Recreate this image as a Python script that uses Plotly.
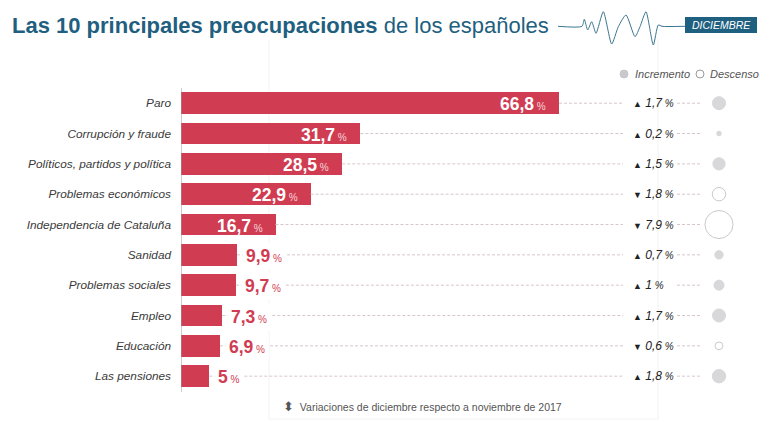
import plotly.graph_objects as go

# ---------------- data ----------------
categories = ["Paro", "Corrupción y fraude", "Políticos, partidos y política",
              "Problemas económicos", "Independencia de Cataluña", "Sanidad",
              "Problemas sociales", "Empleo", "Educación", "Las pensiones"]
values = [66.8, 31.7, 28.5, 22.9, 16.7, 9.9, 9.7, 7.3, 6.9, 5]
changes = [1.7, 0.2, 1.5, -1.8, -7.9, 0.7, 1.0, 1.7, -0.6, 1.8]
inside_label = [True, True, True, True, True, False, False, False, False, False]

title_bold = "Las 10 principales preocupaciones"
title_rest = " de los españoles"
month_label = "DICIEMBRE"
legend_up = "Incremento"
legend_down = "Descenso"
footnote = "Variaciones de diciembre respecto a noviembre de 2017"

# ---------------- layout constants ----------------
PAGE_W, PAGE_H = 770, 422
OFF = 8                       # browser body margin
W, H = PAGE_W - OFF, PAGE_H - OFF
BASE_PX = 181          # page pixel of value 0
SCALE = 5.659          # px per unit
ROW0_PX = 103.2        # page y of first row centre
ROW_STEP = 30.33       # px between rows
FONT = "Liberation Sans, Arial, sans-serif"
RED = "#d03c52"
TEAL = "#1f5f7f"
DASH_COL = "#d6c6ca"

def px_to_x(p):
    return (p - BASE_PX) / SCALE

def P(x, y):
    return (x - OFF) / W, 1 - (y - OFF) / H

def fmt(v):
    s = f"{abs(v):.1f}".rstrip("0").rstrip(".")
    return s.replace(".", ",")

y_top = -(ROW0_PX - OFF) / ROW_STEP
y_bot = y_top + H / ROW_STEP

fig = go.Figure()

# dashed guide lines (bar end -> change column, change -> circle)
for c, v in zip(categories, values):
    fig.add_trace(go.Scatter(x=[v, px_to_x(623)], y=[c, c], mode="lines",
                             line=dict(color=DASH_COL, width=1, dash="3px,2px"),
                             hoverinfo="skip", showlegend=False))
    fig.add_trace(go.Scatter(x=[px_to_x(677), px_to_x(702)], y=[c, c], mode="lines",
                             line=dict(color=DASH_COL, width=1, dash="3px,2px"),
                             hoverinfo="skip", showlegend=False))

# bars
fig.add_trace(go.Bar(x=values, y=categories, orientation="h",
                     marker=dict(color=RED, line=dict(width=0)),
                     width=0.71, hoverinfo="skip", showlegend=False))

# change circles
fig.add_trace(go.Scatter(
    x=[px_to_x(719)] * len(changes), y=categories, mode="markers",
    marker=dict(size=[abs(c) for c in changes], sizemode="area", sizeref=0.02,
                color=["#c8c8cd" if c > 0 else "white" for c in changes],
                line=dict(color=["#c8c8cd" if c > 0 else "#b4b4b4" for c in changes],
                          width=1)),
    hoverinfo="skip", showlegend=False))

annotations = []
# value labels
for c, v, ins in zip(categories, values, inside_label):
    if ins:
        annotations.append(dict(
            x=v, y=c, xref="x", yref="y", xanchor="right", yanchor="middle",
            xshift=-11, yshift=-1, showarrow=False,
            text=f"<b>{fmt(v)}</b><span style='font-size:10px;color:#f6d5da'> %</span>",
            font=dict(family=FONT, size=17.5, color="white")))
    else:
        annotations.append(dict(
            x=v, y=c, xref="x", yref="y", xanchor="left", yanchor="middle",
            xshift=5, yshift=-1, showarrow=False, bgcolor="white", borderpad=3,
            text=f"<b>{fmt(v)}</b><span style='font-size:10px'> %</span>",
            font=dict(family=FONT, size=17.5, color=RED)))

# change texts
for c, ch in zip(categories, changes):
    arrow = "▲" if ch > 0 else "▼"
    annotations.append(dict(
        x=px_to_x(631), y=c, xref="x", yref="y", xanchor="left", yanchor="middle",
        showarrow=False,
        text=f"<span style='font-size:9px'>{arrow}</span> <i>{fmt(ch)}</i><span style='font-size:10px'><i> %</i></span>",
        font=dict(family=FONT, size=12, color="#222222")))

# title
tx, ty = P(10, 26)
annotations.append(dict(
    x=tx, y=ty, xref="paper", yref="paper", xanchor="left", yanchor="middle",
    showarrow=False, text=f"<b>{title_bold}</b>{title_rest}",
    font=dict(family=FONT, size=22, color=TEAL)))
# month box text
mx, my = P(721, 25)
annotations.append(dict(
    x=mx, y=my, xref="paper", yref="paper", xanchor="center", yanchor="middle",
    showarrow=False, text=f"<i>{month_label}</i>",
    font=dict(family=FONT, size=10.5, color="white")))
# legend texts
lx, ly = P(633, 74)
annotations.append(dict(
    x=lx, y=ly, xref="paper", yref="paper", xanchor="left", yanchor="middle",
    showarrow=False, text=f"<i>{legend_up}</i>",
    font=dict(family=FONT, size=11, color="#555555")))
lx, ly = P(708, 74)
annotations.append(dict(
    x=lx, y=ly, xref="paper", yref="paper", xanchor="left", yanchor="middle",
    showarrow=False, text=f"<i>{legend_down}</i>",
    font=dict(family=FONT, size=11, color="#555555")))
# footnote
fx, fy = P(281, 406)
annotations.append(dict(
    x=fx, y=fy, xref="paper", yref="paper", xanchor="left", yanchor="middle",
    showarrow=False, text="<span style='font-size:13px'>⬍</span>  " + footnote,
    font=dict(family=FONT, size=10.5, color="#555555")))

# heartbeat line (page pixel coords)
hb_x = [558, 582, 584.3, 587.7, 591.7, 596, 603.3, 611.7, 618.3, 626, 635, 640, 646, 653.3, 658.3, 662, 685]
hb_y = [26.3, 26.3, 19.3, 30, 21.7, 33.3, 11.7, 44, 26.7, 15, 36.7, 26.7, 11.7, 45, 25, 26.3, 26.3]
fig.add_trace(go.Scatter(x=hb_x, y=hb_y, xaxis="x2", yaxis="y2", mode="lines",
                         line=dict(color="#3a7690", width=1, shape="spline", smoothing=0.6),
                         hoverinfo="skip", showlegend=False))
# legend symbols
fig.add_trace(go.Scatter(x=[624, 700], y=[74, 74], xaxis="x2", yaxis="y2", mode="markers",
                         marker=dict(size=8, color=["#c8c8cd", "white"],
                                     line=dict(color=["#c8c8cd", "#9a9a9a"], width=1)),
                         hoverinfo="skip", showlegend=False))

shapes = []
# faint background frame lines
for xp in (269, 658):
    x0, _ = P(xp, 0)
    shapes.append(dict(type="line", xref="paper", yref="paper", x0=x0, x1=x0,
                       y0=P(0, 419)[1], y1=P(0, 40)[1], layer="below",
                       line=dict(color="#f2f2f2", width=1)))
shapes.append(dict(type="line", xref="paper", yref="paper", x0=P(269, 0)[0], x1=P(658, 0)[0],
                   y0=P(0, 419)[1], y1=P(0, 419)[1], layer="below",
                   line=dict(color="#f2f2f2", width=1)))
# baseline
shapes.append(dict(type="line", xref="x", yref="paper", x0=0, x1=0,
                   y0=P(0, 392)[1], y1=P(0, 88)[1], layer="above",
                   line=dict(color="#9a9a9a", width=1)))
# month box
bx0, by0 = P(685, 33)
bx1, by1 = P(757, 17)
shapes.append(dict(type="rect", xref="paper", yref="paper", x0=bx0, x1=bx1, y0=by0, y1=by1,
                   fillcolor=TEAL, line=dict(width=0), layer="below"))

fig.update_layout(
    width=W, height=H, margin=dict(l=0, r=0, t=0, b=0),
    paper_bgcolor="white", plot_bgcolor="rgba(0,0,0,0)",
    bargap=0, showlegend=False,
    xaxis=dict(domain=[(BASE_PX - OFF) / W, 1], range=[0, (PAGE_W - BASE_PX) / SCALE],
               visible=False, fixedrange=True),
    yaxis=dict(type="category", categoryorder="array", categoryarray=categories,
               range=[y_bot, y_top], showgrid=False, zeroline=False, showline=False,
               ticks="", ticklabelstandoff=9, automargin=False,
               tickfont=dict(family=FONT, size=11.8, color="#3a3a3a", style="italic"),
               fixedrange=True),
    xaxis2=dict(domain=[0, 1], range=[OFF, PAGE_W], visible=False, anchor="y2", fixedrange=True),
    yaxis2=dict(domain=[0, 1], range=[PAGE_H, OFF], visible=False, anchor="x2", fixedrange=True),
    annotations=annotations, shapes=shapes,
)

fig.write_html("out.html")
